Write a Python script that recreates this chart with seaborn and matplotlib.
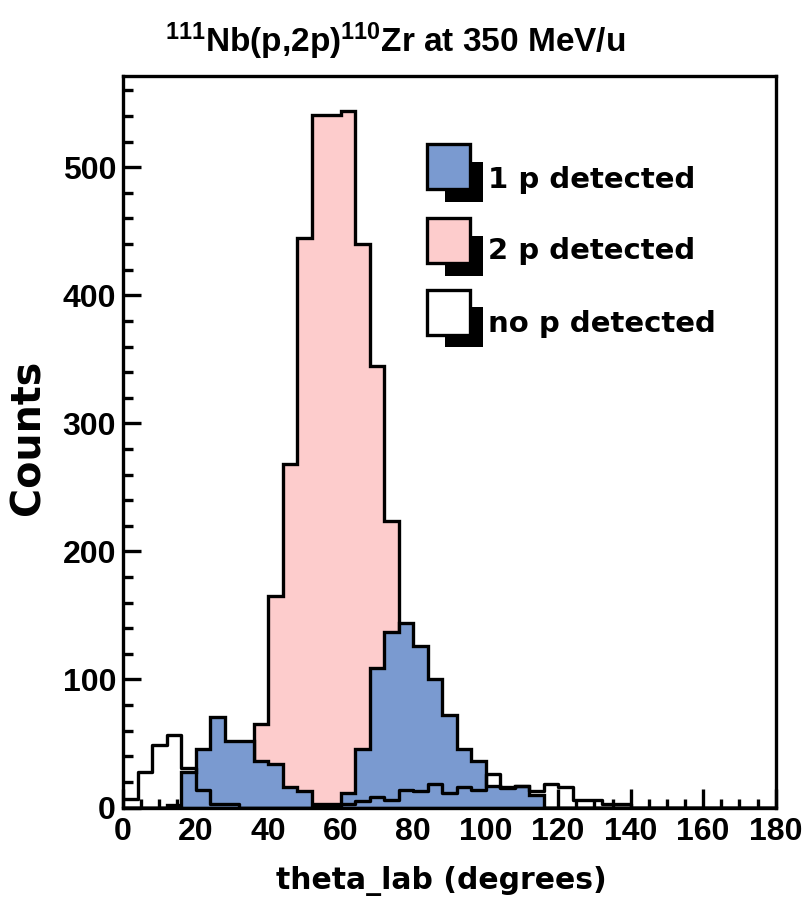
import numpy as np
import pandas as pd
import matplotlib
matplotlib.use("Agg")
import matplotlib.pyplot as plt
import seaborn as sns
from matplotlib.patches import Rectangle
from matplotlib.ticker import MultipleLocator, FixedLocator

# ---------------- data ----------------
bin_edges_deg = list(range(0, 184, 4))                 # 0 .. 180, 4 deg bins
theta_centers = [e + 2 for e in range(0, 180, 4)]      # 45 bin centres

counts_1p = [0, 0, 0, 2, 28, 46, 71, 52, 52, 36,
             34, 16, 13, 3, 3, 11, 46, 109, 137, 144,
             126, 100, 72, 46, 36, 17, 16, 17, 10, 0,
             0, 0, 0, 0, 0, 0, 0, 0, 0, 0,
             0, 0, 0, 0, 0]
counts_2p = [0, 0, 0, 0, 0, 0, 0, 2, 12, 65,
             165, 268, 445, 541, 541, 544, 440, 345, 224, 95,
             40, 12, 4, 1, 0, 0, 0, 0, 0, 0,
             0, 0, 0, 0, 0, 0, 0, 0, 0, 0,
             0, 0, 0, 0, 0]
counts_0p = [7, 28, 49, 57, 31, 14, 3, 3, 0, 0,
             0, 0, 0, 1, 1, 3, 5, 8, 6, 14,
             13, 18, 11, 16, 14, 26, 15, 17, 13, 18,
             16, 6, 6, 3, 3, 0, 0, 0, 0, 0,
             0, 0, 0, 0, 0]

legend_labels = ["1 p detected", "2 p detected", "no p detected"]
title_text = r"$\mathregular{^{111}}$Nb(p,2p)$\mathregular{^{110}}$Zr at 350 MeV/u"
x_label = "theta_lab (degrees)"
y_label = "Counts"
x_ticks = list(range(0, 181, 20))
y_ticks = list(range(0, 501, 100))

# ---------------- style ----------------
BLUE = "#7a9ad0"
PINK = "#fdcccc"
W, H = 805, 900
LW = 2.4

sns.set_theme(style="white")
plt.rcParams['font.family'] = ['DejaVu Sans']

fig = plt.figure(figsize=(W / 100, H / 100), dpi=100)
fig.patch.set_facecolor("white")

L, R, T, B = 123, 775.7, 75.7, 807.5
ax = fig.add_axes([L / W, 1 - B / H, (R - L) / W, (B - T) / H])
ax.set_facecolor("white")

df = pd.DataFrame({"theta": theta_centers, "n1": counts_1p,
                   "n2": counts_2p, "n0": counts_0p})

sns.histplot(data=df, x="theta", weights="n2", bins=bin_edges_deg,
             element="step", fill=True, color=PINK, edgecolor="black",
             linewidth=LW, alpha=1, ax=ax, joinstyle="miter")
sns.histplot(data=df, x="theta", weights="n1", bins=bin_edges_deg,
             element="step", fill=True, color=BLUE, edgecolor="black",
             linewidth=LW, alpha=1, ax=ax, joinstyle="miter")
sns.histplot(data=df, x="theta", weights="n0", bins=bin_edges_deg,
             element="step", fill=False, color="black",
             linewidth=LW, ax=ax)

ax.set_xlim(0, 180)
ax.set_ylim(0, 571.5)
ax.set_xlabel("")
ax.set_ylabel("")
ax.grid(False)

for s in ax.spines.values():
    s.set_color("black")
    s.set_linewidth(LW)
    s.set_visible(True)
    s.set_zorder(5)

ax.xaxis.set_major_locator(FixedLocator(x_ticks))
ax.xaxis.set_minor_locator(MultipleLocator(5))
ax.yaxis.set_major_locator(FixedLocator(y_ticks))
ax.yaxis.set_minor_locator(MultipleLocator(20))
ax.set_xticklabels([str(v) for v in x_ticks])
ax.set_yticklabels([str(v) for v in y_ticks])

ax.tick_params(axis="x", which="major", direction="in", length=13.5, width=LW,
               bottom=True, top=False, color="black", pad=7)
ax.tick_params(axis="x", which="minor", direction="in", length=6.5, width=LW,
               bottom=True, top=False, color="black")
ax.tick_params(axis="y", which="major", direction="in", length=13, width=LW,
               left=True, right=False, color="black", pad=5)
ax.tick_params(axis="y", which="minor", direction="in", length=7.5, width=LW,
               left=True, right=False, color="black")

for lab in ax.get_xticklabels() + ax.get_yticklabels():
    lab.set_fontfamily("Liberation Sans")
    lab.set_fontweight("bold")
    lab.set_fontsize(23)
    lab.set_color("black")

def fx(x):
    return x / W

def fy(y):
    return 1 - y / H

# title
fig.text(fx(395), fy(52), title_text, ha="center", va="baseline",
         fontsize=24, family="Liberation Sans", weight="bold", color="black")
# axis titles
fig.text(fx(441), fy(889), x_label, ha="center", va="baseline",
         fontsize=21.5, weight="bold", color="black")
fig.text(fx(29), fy(437), y_label, ha="center", va="center", rotation=90,
         fontsize=28.5, weight="bold", color="black")

# legend (ROOT style, shadowed boxes)
box_tops = [142.7, 216.7, 288.3]
box_colors = [BLUE, PINK, "white"]
text_baselines = [188, 259, 332]
bw, bh = 46.7, 48
for top, col, lab, tb in zip(box_tops, box_colors, legend_labels, text_baselines):
    # shadow
    sx0, sx1 = 445, 483.3
    sy0, sy1 = top + 19, top + bh + 11
    fig.add_artist(Rectangle((fx(sx0), fy(sy1)), (sx1 - sx0) / W, (sy1 - sy0) / H,
                             transform=fig.transFigure, facecolor="black",
                             edgecolor="none", zorder=10))
    x0, x1 = 425 + 1.5, 425 + bw - 1.5
    y0, y1 = top + 1.5, top + bh - 1.5
    fig.add_artist(Rectangle((fx(x0), fy(y1)), (x1 - x0) / W, (y1 - y0) / H,
                             transform=fig.transFigure, facecolor=col,
                             edgecolor="black", linewidth=LW, zorder=11,
                             joinstyle="miter"))
    fig.text(fx(488), fy(tb), lab, ha="left", va="baseline", fontsize=21,
             weight="bold", color="black", zorder=12)

fig.savefig("out.png", dpi=100, facecolor="white")
